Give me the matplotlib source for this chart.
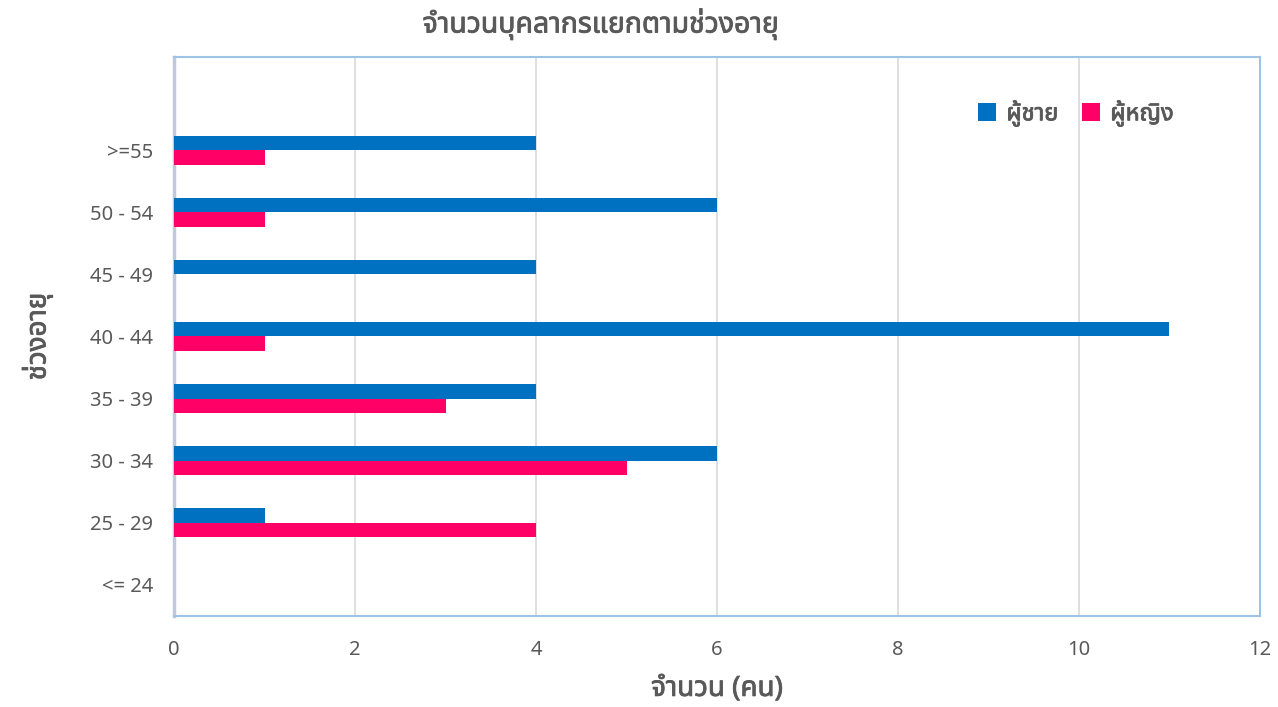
"""Horizontal bar chart: staff by age group and sex."""

import matplotlib
matplotlib.use("Agg")
import matplotlib.pyplot as plt
import matplotlib.patheffects as pe
from matplotlib import font_manager
from matplotlib.ft2font import FT2Font
import numpy as np

age_groups = ["<= 24", "25 - 29", "30 - 34", "35 - 39",
              "40 - 44", "45 - 49", "50 - 54", ">=55"]
male = [0, 1, 6, 4, 11, 4, 6, 4]
female = [0, 4, 5, 3, 1, 0, 1, 1]
series_names = ["ผู้ชาย", "ผู้หญิง"]
x_ticks = [0, 2, 4, 6, 8, 10, 12]

TITLE = "จำนวนบุคลากรแยกตามช่วงอายุ"
XLABEL = "จำนวน (คน)"
YLABEL = "ช่วงอายุ"


def find_thai_font():
    # look for an installed font that has Thai glyphs
    found = []
    for f in font_manager.fontManager.ttflist:
        try:
            cmap = FT2Font(f.fname).get_charmap()
        except Exception:
            continue
        if ord("จ") in cmap and ord("ญ") in cmap:
            found.append(f.name)
    for pref in ["Noto Sans Thai", "Noto Sans Thai UI", "Loma", "Garuda",
                 "Tahoma", "Leelawadee UI", "DejaVu Sans"]:
        if pref in found:
            return pref
    return found[0] if found else "DejaVu Sans"


thai = find_thai_font()
plt.rcParams["font.family"] = [thai, "DejaVu Sans"]

GRAY = "#595959"
BLUE = "#0070C0"
PINK = "#FF0066"
# fake semi-bold for the headings
semibold = [pe.withStroke(linewidth=0.6, foreground=GRAY)]

fig = plt.figure(figsize=(12.78, 7.07), dpi=100)
ax = fig.add_axes([0.1362, 0.1287, 0.8497, 0.7907])

y = np.arange(len(age_groups))
h = 0.235
ax.barh(y + h / 2, male, height=h, color=BLUE, label=series_names[0], zorder=3)
ax.barh(y - h / 2, female, height=h, color=PINK, label=series_names[1], zorder=3)

ax.set_xlim(0, 12)
ax.set_ylim(-0.5, len(age_groups) + 0.5)
ax.set_xticks(x_ticks)
ax.set_yticks(y)
ax.set_yticklabels(age_groups)
ax.tick_params(axis="both", length=0, labelsize=14.5, colors=GRAY)
ax.tick_params(axis="y", pad=15)
ax.tick_params(axis="x", pad=17)
ax.xaxis.grid(True, color="#D9D9D9", lw=1.2, zorder=0)
ax.set_axisbelow(True)

for s in ax.spines.values():
    s.set_color("#9DC3E6")
    s.set_linewidth(1.5)
ax.spines["left"].set_color("#BFC9D9")
ax.spines["left"].set_linewidth(2.5)

xl = ax.set_xlabel(XLABEL, fontsize=20, color=GRAY, labelpad=11)
yl = ax.set_ylabel(YLABEL, fontsize=20, color=GRAY, labelpad=27)
tt = fig.text(0.47, 0.966, TITLE, fontsize=20.5, color=GRAY,
              ha="center", va="center")
for t in (xl, yl, tt):
    t.set_path_effects(semibold)

leg = ax.legend(loc="upper right", bbox_to_anchor=(0.94, 0.96), ncol=2,
                frameon=False, fontsize=17, handlelength=0.75, handleheight=0.75,
                columnspacing=1.0, handletextpad=0.45)
for t in leg.get_texts():
    t.set_color(GRAY)
    t.set_path_effects(semibold)

fig.savefig("out.png", dpi=100)
